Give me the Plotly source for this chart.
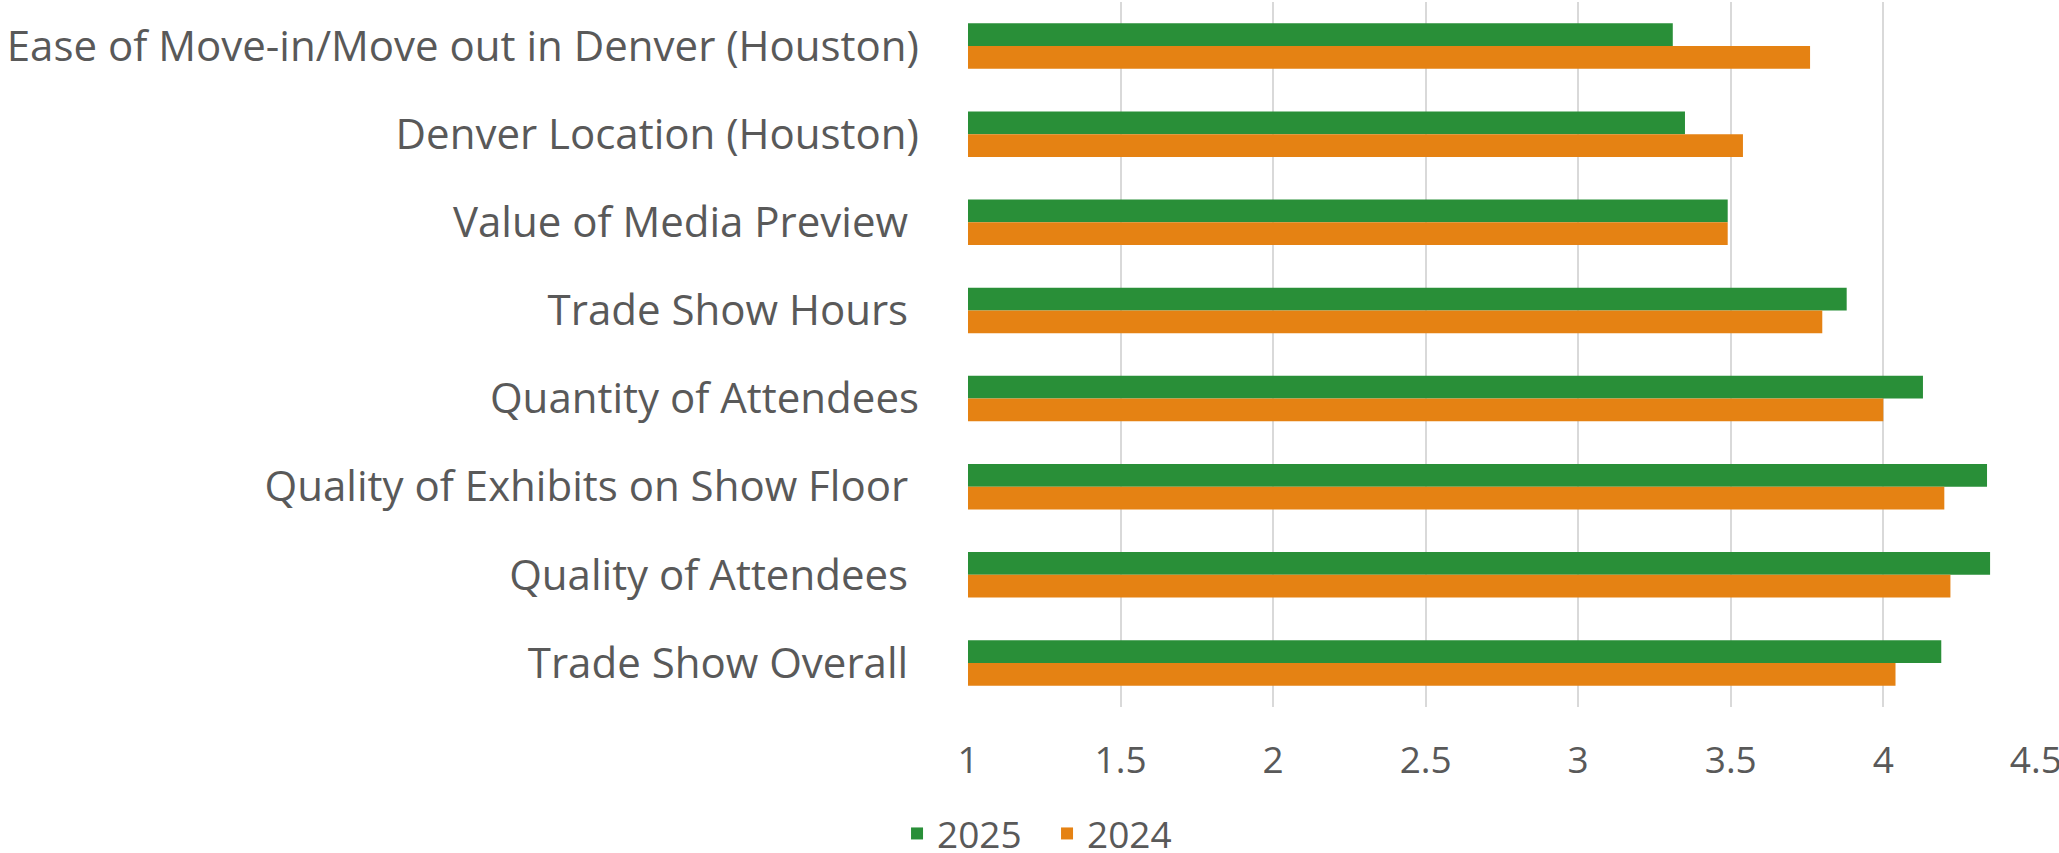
import plotly.graph_objects as go

# Survey ratings, listed top to bottom as they appear in the chart
categories = [
    "Ease of Move-in/Move out in Denver (Houston)",
    "Denver Location (Houston)",
    "Value of Media Preview ",
    "Trade Show Hours ",
    "Quantity of Attendees",
    "Quality of Exhibits on Show Floor ",
    "Quality of Attendees ",
    "Trade Show Overall ",
]
scores_2025 = [3.31, 3.35, 3.49, 3.88, 4.13, 4.34, 4.35, 4.19]
scores_2024 = [3.76, 3.54, 3.49, 3.80, 4.00, 4.20, 4.22, 4.04]
x_ticks = [1, 1.5, 2, 2.5, 3, 3.5, 4, 4.5]

GREEN = "#298F38"
ORANGE = "#E58213"
TEXT = "#595959"
FONT = "Open Sans"

fig = go.Figure()
fig.add_trace(go.Bar(y=categories, x=scores_2025, base=0, name="2025",
                     orientation="h", marker_color=GREEN, marker_line_width=0))
fig.add_trace(go.Bar(y=categories, x=scores_2024, base=0, name="2024",
                     orientation="h", marker_color=ORANGE, marker_line_width=0))

fig.update_layout(
    width=2059, height=853,
    margin=dict(l=968, r=23, t=2, b=146, autoexpand=False),
    paper_bgcolor="white", plot_bgcolor="white",
    barmode="group", bargap=0.485, bargroupgap=0,
    font=dict(family=FONT, color=TEXT, size=38),
    legend=dict(orientation="h", x=0.074, xanchor="center", y=-0.18, yanchor="middle",
                font=dict(size=37, color=TEXT), itemwidth=30, tracegroupgap=0,
                entrywidth=105),
    showlegend=True,
)
fig.update_xaxes(range=[1, 4.5005], tickvals=x_ticks, ticktext=[f"{v:g}" for v in x_ticks],
                 showgrid=True, gridcolor="#D9D9D9", gridwidth=2, zeroline=False,
                 showline=False, automargin=False, ticklabelstandoff=28,
                 ticklabeloverflow="allow", tickfont=dict(size=37, color=TEXT))
fig.update_yaxes(autorange="reversed", showgrid=False, showline=False, automargin=False,
                 ticklabelstandoff=48, tickfont=dict(size=42, color=TEXT))

# drop the browser's default body margin so the figure sits at the page corner
fig.write_html("out.html", config={"displayModeBar": False},
               post_script="document.body.style.margin = '0';")
